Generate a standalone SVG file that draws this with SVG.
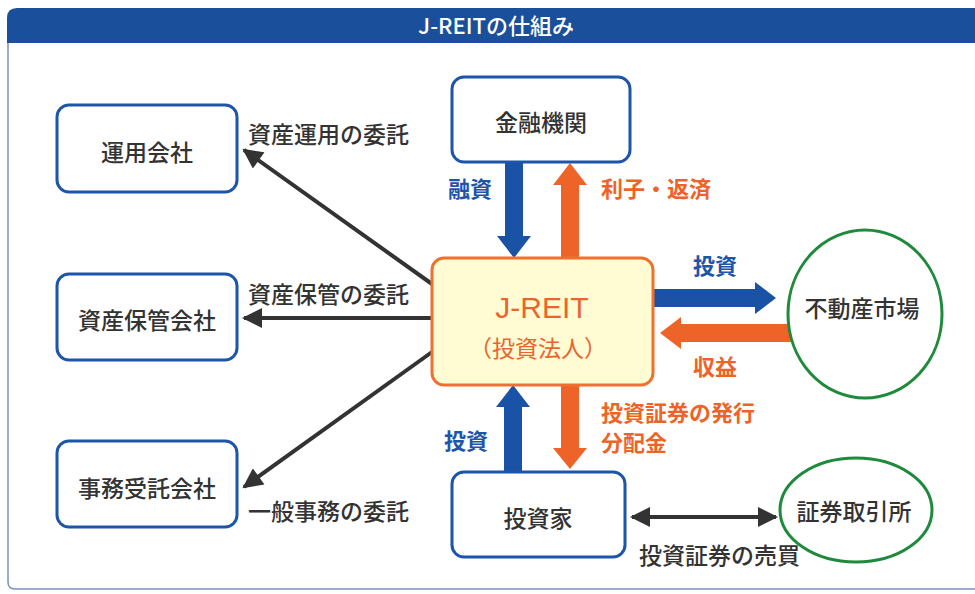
<svg xmlns="http://www.w3.org/2000/svg" width="975" height="594" viewBox="0 0 975 594">
<style>
.jp{font-family:"Noto Sans CJK JP","Noto Sans",sans-serif}
.box{fill:#fff;stroke:#1d55a8;stroke-width:3}
.ell{fill:#fff;stroke:#1f8a3c;stroke-width:3}
.nt{font-size:23px;fill:#333;text-anchor:middle;font-weight:500;font-family:"Noto Sans CJK JP",sans-serif}
.lb{font-size:23px;fill:#333;font-weight:500;font-family:"Noto Sans CJK JP",sans-serif}
.bl{font-size:22px;fill:#1d55a8;font-weight:bold;font-family:"Noto Sans CJK JP",sans-serif}
.or{font-size:22px;fill:#ee6428;font-weight:bold;font-family:"Noto Sans CJK JP",sans-serif}
.blk{stroke:#333;stroke-width:4;fill:none}
</style>
<defs>
<marker id="ah" viewBox="0 0 10 10" refX="9" refY="5" markerWidth="5.5" markerHeight="5" markerUnits="strokeWidth" orient="auto-start-reverse">
<path d="M0,0 L10,5 L0,10 Z" fill="#333"/>
</marker>
</defs>
<rect x="0" y="0" width="975" height="594" fill="#fff"/>
<g id="frame">
<path d="M8,40 V582 Q8,589 15,589 H976" fill="#fff" stroke="#7b93c0" stroke-width="1.5"/>
<path d="M7,43 V18 Q7,8 17,8 H975 V43 Z" fill="#1a4f9c"/>
<text x="496" y="34" class="jp" font-size="22" font-weight="500" fill="#fff" text-anchor="middle">J-REITの仕組み</text>
</g>
<g id="connectors">
<path d="M505,162 H523 V236 H531 L514,258 L497,236 H505 Z" fill="#1a52a5"/>
<path d="M561,258 H579 V185 H587 L570,163 L553,185 H561 Z" fill="#ee6428"/>
<path d="M504,472 H522 V407 H530 L513,385 L496,407 H504 Z" fill="#1a52a5"/>
<path d="M561,385 H579 V448 H587 L570,469 L553,448 H561 Z" fill="#ee6428"/>
<path d="M653,289 V307 H755 V314 L776,298 L755,282 V289 Z" fill="#1a52a5"/>
<path d="M792,324 V342 H681 V349 L660,333 L681,317 V324 Z" fill="#ee6428"/>
<line x1="432" y1="284" x2="244" y2="150" class="blk" marker-end="url(#ah)"/>
<line x1="432" y1="318" x2="244" y2="318" class="blk" marker-end="url(#ah)"/>
<line x1="432" y1="352" x2="244" y2="487" class="blk" marker-end="url(#ah)"/>
<line x1="632" y1="517" x2="776" y2="517" class="blk" marker-start="url(#ah)" marker-end="url(#ah)"/>
<text x="248" y="143" class="lb">資産運用の委託</text>
<text x="248" y="303" class="lb">資産保管の委託</text>
<text x="248" y="520" class="lb">一般事務の委託</text>
<text x="639" y="564" class="lb">投資証券の売買</text>
<text x="448" y="197" class="bl">融資</text>
<text x="601" y="197" class="or">利子・返済</text>
<text x="444" y="449" class="bl">投資</text>
<text class="or" font-size="21"><tspan x="601" y="421">投資証券の発行</tspan><tspan x="601" y="451">分配金</tspan></text>
<text x="693" y="274" class="bl">投資</text>
<text x="693" y="375" class="or">収益</text>
</g>
<g id="unyo">
<rect x="57" y="105" width="180" height="87" rx="12" class="box"/>
<text x="147" y="161" class="nt">運用会社</text>
</g>
<g id="hokan">
<rect x="57" y="274" width="180" height="86" rx="12" class="box"/>
<text x="147" y="329" class="nt">資産保管会社</text>
</g>
<g id="jimu">
<rect x="57" y="441" width="180" height="86" rx="12" class="box"/>
<text x="147" y="497" class="nt">事務受託会社</text>
</g>
<g id="kinyu">
<rect x="452" y="77" width="178" height="85" rx="12" class="box"/>
<text x="541" y="131" class="nt">金融機関</text>
</g>
<g id="jreit">
<rect x="432" y="258" width="221" height="127" rx="12" fill="#fffbd2" stroke="#f07030" stroke-width="3"/>
<text x="542" y="318" font-family="Liberation Sans, Noto Sans CJK JP, sans-serif" font-size="30" fill="#e8652e" text-anchor="middle">J-REIT</text>
<text x="538" y="357" class="jp" font-size="23" fill="#e8652e" text-anchor="middle">（投資法人）</text>
</g>
<g id="toushika">
<rect x="452" y="472" width="173" height="85" rx="12" class="box"/>
<text x="538" y="527" class="nt">投資家</text>
</g>
<g id="fudosan">
<ellipse cx="865" cy="314" rx="77" ry="84" class="ell"/>
<text x="862" y="317" class="nt">不動産市場</text>
</g>
<g id="shoken">
<ellipse cx="856" cy="510" rx="76" ry="52" class="ell"/>
<text x="854" y="520" class="nt">証券取引所</text>
</g>
</svg>
